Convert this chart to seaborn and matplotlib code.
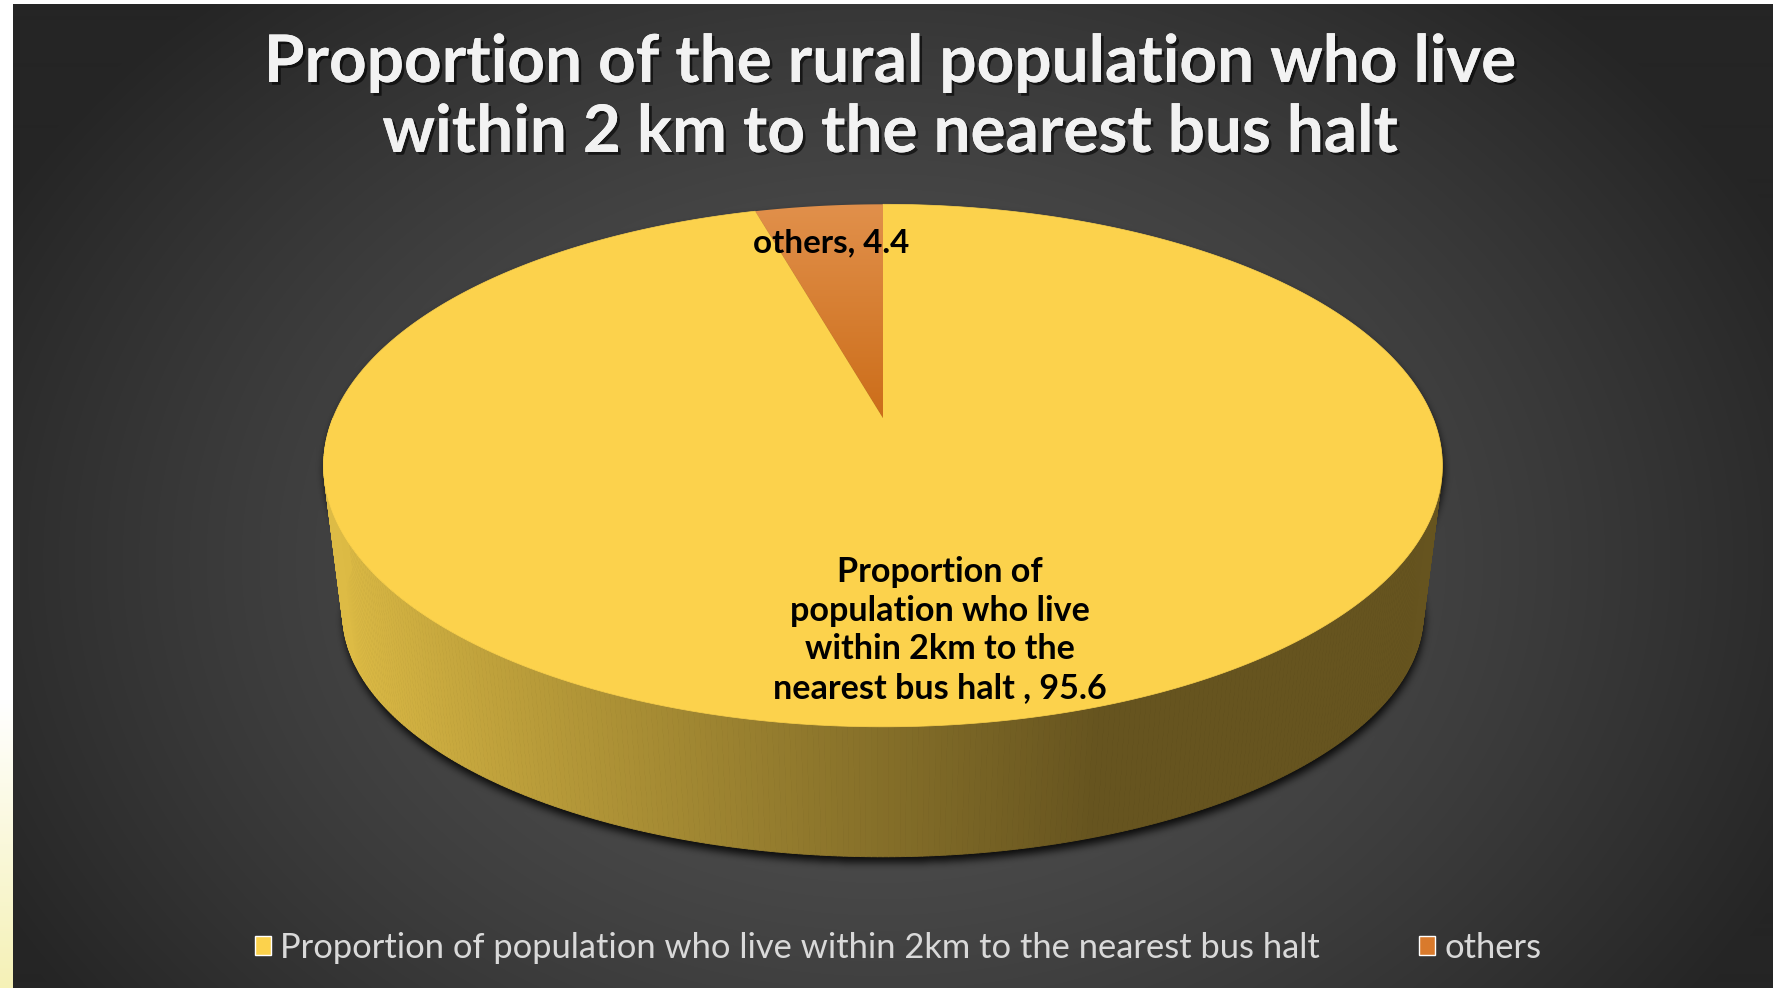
import numpy as np
import seaborn as sns
import matplotlib
matplotlib.use("Agg")
import matplotlib.pyplot as plt
import matplotlib.patheffects as pe
from matplotlib.patches import Polygon, Patch
from matplotlib.collections import PolyCollection
from matplotlib.path import Path
from matplotlib.textpath import TextPath
from matplotlib.font_manager import FontProperties
from matplotlib.colors import LinearSegmentedColormap, to_rgb

# ---- data ----
categories = ["Proportion of population who live within 2km to the nearest bus halt ", "others"]
values = [95.6, 4.4]
label_lines = [["Proportion of", "population who live", "within 2km to the", "nearest bus halt , 95.6"],
               ["others, 4.4"]]
title_lines = ["Proportion of the rural population who live", "within 2 km to the nearest bus halt"]

sns.set_theme(style="dark")
plt.rcParams['font.family'] = ['Lato', 'DejaVu Sans']
FAM = ['Lato', 'DejaVu Sans']

W, H = 1773, 988
pal = sns.color_palette(["#FCD24C", "#D97A2C"])
side_light, side_dark = np.array(to_rgb("#DDBB45")), np.array(to_rgb("#66541F"))
orange_top, orange_bot = "#E1904B", "#CC6D19"

# pie layout (pixels), simple perspective
CX, CY, SX, SY, K = 883, 418, 550, 252.6, -0.182
DA, DB = 152, 22
TAPER = 0.966   # bottom rim a bit narrower than the top


def proj(X, Y):
    w = 1 + K * Y
    return CX + SX * X / w, CY + SY * Y / w


def proj_bottom(X, Y):
    u, v = proj(X, Y)
    return CX + (u - CX) * TAPER, v + DA - DB * Y


def arc(t0, t1, n=400):
    th = np.radians(np.linspace(t0, t1, n))
    return np.sin(th), -np.cos(th)


def fit_size(s, width_px, weight="normal"):
    fp = FontProperties(family=FAM, weight=weight)
    w = TextPath((0, 0), s, size=100, prop=fp).get_extents().width
    return width_px * 72 / w


# ---- background ----
yy, xx = np.mgrid[0:H, 0:W].astype(float)
r = np.clip(np.sqrt(((xx - 880) / 1000) ** 2 + ((yy - 560) / 760) ** 2), 0, 1) ** 1.5
c0, c1 = 0x54 / 255, 0x25 / 255
bg = np.repeat((c0 + (c1 - c0) * r)[..., None], 3, axis=2)

# shadow under the pie
Xf, Yf = arc(0, 360, 720)
tu, tv = proj(Xf, Yf)
Xs, Ys = arc(90, 270, 300)
su, sv = proj(Xs, Ys)
bu, bv = proj_bottom(Xs, Ys)
band = np.vstack([np.column_stack([su, sv]), np.column_stack([bu[::-1], bv[::-1]])])
pts = np.column_stack([xx.ravel() - 2, yy.ravel() - 7])
mask = (Path(np.column_stack([tu, tv])).contains_points(pts) |
        Path(band).contains_points(pts)).reshape(H, W).astype(float)
for _ in range(3):
    c = np.cumsum(np.pad(mask, [(4, 4), (0, 0)], mode="edge"), axis=0)
    mask = (c[8:] - c[:-8]) / 8
    c = np.cumsum(np.pad(mask, [(0, 0), (4, 4)], mode="edge"), axis=1)
    mask = (c[:, 8:] - c[:, :-8]) / 8
mask = mask[:H, :W]
bg *= (1 - 0.85 * mask)[..., None]

# white slide edges
bg[:5, :] = 1
edge = np.clip((np.arange(H) - 700) / 288, 0, 1)[:, None]
bg[:, :13] = (1 - edge)[..., None] * 1 + edge[..., None] * np.array(to_rgb("#F5F1B6"))

fig = plt.figure(figsize=(W / 100, H / 100), dpi=100)
ax = fig.add_axes([0, 0, 1, 1])
ax.imshow(bg, extent=(0, W, H, 0), zorder=0, interpolation="bilinear")

# ---- pie ----
total = sum(values)
bounds = np.concatenate([[0], np.cumsum(values) / total * 360])

# side wall (front half only)
quads, cols = [], []
steps = np.linspace(90, 270, 361)
for a0, a1 in zip(steps[:-1], steps[1:]):
    X, Y = arc(a0, a1, 2)
    u, v = proj(X, Y)
    ub, vb = proj_bottom(X, Y)
    quads.append([(u[0], v[0]), (u[1], v[1]), (ub[1], vb[1]), (ub[0], vb[0])])
    f = np.clip(0.26 - 0.8 * X.mean(), 0, 1)
    cols.append(side_dark + (side_light - side_dark) * f)
ax.add_collection(PolyCollection(quads, facecolors=cols, edgecolors=cols, linewidths=0.6, zorder=2))

# top face
for i, (a0, a1) in enumerate(zip(bounds[:-1], bounds[1:])):
    X, Y = arc(a0, a1)
    u, v = proj(X, Y)
    cu, cv = proj(0, 0)
    verts = np.vstack([[cu, cv], np.column_stack([u, v])])
    if i == 0:
        ax.add_patch(Polygon(verts, closed=True, facecolor=pal[0], edgecolor=pal[0], lw=0.5, zorder=3))
    else:
        poly = Polygon(verts, closed=True, facecolor="none", edgecolor="none", zorder=4)
        ax.add_patch(poly)
        grad = np.linspace(0, 1, 256)[:, None]
        cm = LinearSegmentedColormap.from_list("o", [orange_top, orange_bot])
        im = ax.imshow(grad, cmap=cm, extent=(verts[:, 0].min(), verts[:, 0].max(),
                                              verts[:, 1].max(), verts[:, 1].min()),
                       aspect="auto", zorder=4)
        im.set_clip_path(poly)

# data labels
fs_main = fit_size(label_lines[0][-1], 330, "bold")
for j, line in enumerate(label_lines[0]):
    ax.text(940, 582 + j * 38.7, line, ha="center", va="baseline", fontsize=fs_main,
            fontweight="bold", color="black", zorder=6)
fs_oth = fit_size(label_lines[1][0], 155, "bold")
ax.text(831, 252, label_lines[1][0], ha="center", va="baseline", fontsize=fs_oth,
        fontweight="bold", color="black", zorder=6)

# title
fs_t = fit_size(title_lines[0], 1245, "bold")
shadow = [pe.withSimplePatchShadow(offset=(2, -2), shadow_rgbFace="black", alpha=0.6), pe.Normal()]
for j, line in enumerate(title_lines):
    ax.text(890, 82 + j * 70, line, ha="center", va="baseline", fontsize=fs_t,
            fontweight="bold", color="#F2F2F2", path_effects=shadow, zorder=6)

# legend
fs_l = fit_size(categories[0].strip(), 1036)
px = fs_l * 100 / 72
handles = [Patch(facecolor=pal[0]), Patch(facecolor=pal[1])]
fig.legend(handles, [c.strip() for c in categories], loc="center",
           bbox_to_anchor=(898 / W, 1 - 948 / H), ncol=2, frameon=False,
           fontsize=fs_l, handlelength=16 / px, handleheight=16 / px,
           handletextpad=9 / px, columnspacing=100 / px, labelcolor="#D9D9D9")

ax.set_xlim(0, W)
ax.set_ylim(H, 0)
ax.set_aspect("auto")
ax.axis("off")
fig.savefig("out.png", dpi=100)
